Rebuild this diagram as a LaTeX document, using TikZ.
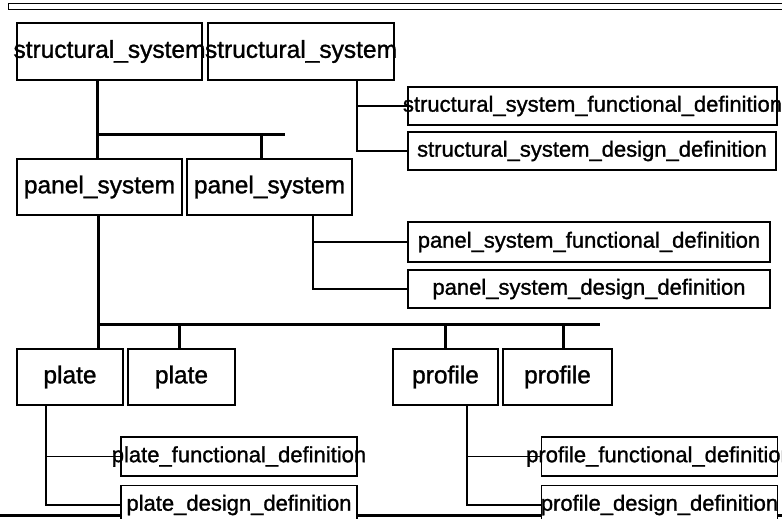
\documentclass[tikz,border=0pt]{standalone}
\usepackage{fontspec}
\setmainfont{Liberation Sans}
\newfontfamily\boxfont{Liberation Sans}[FakeBold=1.2]
\newcommand\ovr[1]{\makebox[0pt]{#1}}
\tikzset{box/.style={draw, fill=white, line width=1.2pt, inner sep=0pt, font=\boxfont\fontsize{22}{24}\selectfont},
         bigbox/.style={box, font=\boxfont\fontsize{24.5}{26}\selectfont},
         trunk/.style={line width=3pt}, twig/.style={line width=1.4pt}}

\begin{document}
\begin{tikzpicture}[x=1pt,y=-1pt]
   \useasboundingbox (0,0) rectangle (782,519);
   \clip (0,0) rectangle (782,519);
   \draw[line width=1pt] (8,4) rectangle (800,10);
   \draw[trunk] (0,515) -- (782,515);
   \begin{scope}[every node/.style={bigbox, minimum height=57pt}]
    \node[minimum width=185pt] (ss1) at (109.5, 51.5) {\ovr{structural\_system}};
    \node[minimum width=186pt] (ss2) at (301.0, 51.5) {\ovr{structural\_system}};
   \end{scope}
   \node[box, minimum width=369pt, minimum height=38pt] (ssf) at (592.5,106.0) {\ovr{structural\_system\_functional\_definition}};
   \node[box, minimum width=368pt, minimum height=38pt] (ssd) at (592.0,151.0) {\ovr{structural\_system\_design\_definition}};
   \begin{scope}[every node/.style={bigbox, minimum width=165pt, minimum height=56pt}]
    \node (ps1) at ( 99.5,187.0) {\ovr{panel\_system}};
    \node (ps2) at (269.5,187.0) {\ovr{panel\_system}};
   \end{scope}
   \node[box, minimum width=362pt, minimum height=40pt] (psf) at (589.0,242.0) {\ovr{panel\_system\_functional\_definition}};
   \node[box, minimum width=362pt, minimum height=38pt] (psd) at (589.0,289.0) {\ovr{panel\_system\_design\_definition}};
   \begin{scope}[every node/.style={bigbox, minimum height=56pt}]
    \node[minimum width=106pt] (pl1) at ( 70.0,377.0) {\ovr{plate}};
    \node[minimum width=107pt] (pl2) at (181.5,377.0) {\ovr{plate}};
    \node[minimum width=105pt] (pr1) at (445.5,377.0) {\ovr{profile}};
    \node[minimum width=109pt] (pr2) at (557.5,377.0) {\ovr{profile}};
   \end{scope}
   \begin{scope}[every node/.style={box, minimum width=236pt, minimum height=39pt}]
    \node (plf) at (239.0,456.5) {\ovr{plate\_functional\_definition}};
    \node (pld) at (239.0,505.0) {\ovr{plate\_design\_definition}};
    \node (prf) at (659.5,456.5) {\ovr{profile\_functional\_definition}};
    \node (prd) at (659.5,505.0) {\ovr{profile\_design\_definition}};
   \end{scope}
   \coordinate (j1)  at ( 97,134);
   \coordinate (j1b) at (261,134);
   \coordinate (j1e) at (285,134);
   \draw[trunk] (ss1.south -| j1) -- (ps1.north -| j1);
   \draw[trunk] (j1) -- (j1e);
   \draw[trunk] (j1b) -- (ps2.north -| j1b);
   \coordinate (j2)  at ( 98,324);
   \coordinate (j2e) at (600,324);
   \draw[trunk] (ps1.south -| j2) -- (pl1.north -| j2);
   \draw[trunk] (j2) -- (j2e);
   \foreach \n/\x in {pl2/179, pr1/445, pr2/563}
    {\coordinate (d) at (\x,324); \draw[trunk] (d) -- (d |- \n.north);}
   \coordinate (k1) at (357,0);
   \coordinate (k2) at (313,0);
   \coordinate (k3) at ( 46,0);
   \coordinate (k4) at (467,0);
   \draw[twig] (ss2.south -| k1) |- (ssf);
   \draw[twig] (ss2.south -| k1) |- (ssd);
   \draw[twig] (ps2.south -| k2) |- (psf);
   \draw[twig] (ps2.south -| k2) |- (psd);
   \draw[twig] (pl1.south -| k3) |- (plf);
   \draw[twig] (pl1.south -| k3) |- (pld);
   \draw[twig] (pr1.south -| k4) |- (prf);
   \draw[twig] (pr1.south -| k4) |- (prd);
  \end{tikzpicture}
\end{document}
